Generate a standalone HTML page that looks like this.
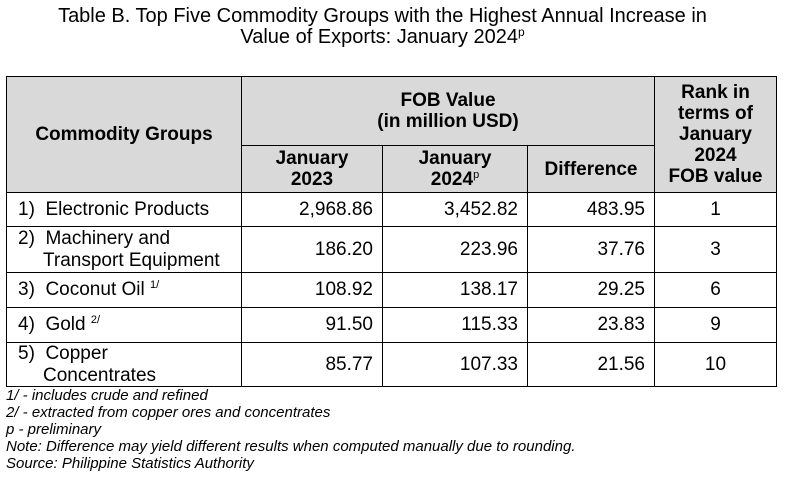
<!DOCTYPE html>
<html><head><meta charset="utf-8"><style>
body{margin:0;width:785px;height:477px;background:#fff;font-family:"Liberation Sans",Arial,sans-serif;color:#000;position:relative;overflow:hidden}
.t{position:absolute;left:-10px;width:785px;text-align:center;font-size:20px;line-height:21px}
.c{position:absolute;box-sizing:border-box;border:1px solid #000;display:flex;align-items:center;font-size:19px;line-height:22px}
.h{background:#d9d9d9;font-weight:bold;justify-content:center;text-align:center;line-height:21px}
.n{justify-content:flex-end;padding-right:9px}
.m{justify-content:center}
.l{padding-left:11px}
.l span{display:block}
.ind{padding-left:25px}
sup{font-size:11px;vertical-align:7px;line-height:0;font-weight:normal}
.f{position:absolute;left:6px;font-size:15px;font-style:italic;line-height:17px}
</style></head><body>
<div class="t" style="top:6px">Table B. Top Five Commodity Groups with the Highest Annual Increase in<br>Value of Exports: January 2024<sup style="font-size:12px">p</sup></div>

<div class="c h" style="left:6px;top:76px;width:236px;height:117px"><span>Commodity Groups</span></div>
<div class="c h" style="left:241px;top:76px;width:414px;height:70px"><span>FOB Value<br>(in million USD)</span></div>
<div class="c h" style="left:654px;top:76px;width:123px;height:117px"><span>Rank in<br>terms of<br>January<br>2024<br>FOB value</span></div>
<div class="c h" style="left:241px;top:145px;width:142px;height:48px"><span>January<br>2023</span></div>
<div class="c h" style="left:382px;top:145px;width:146px;height:48px"><span>January<br>2024<sup>p</sup></span></div>
<div class="c h" style="left:527px;top:145px;width:128px;height:48px"><span>Difference</span></div>

<div class="c l" style="left:6px;top:192px;width:236px;height:35px"><span>1)&nbsp; Electronic Products</span></div>
<div class="c n" style="left:241px;top:192px;width:142px;height:35px">2,968.86</div>
<div class="c n" style="left:382px;top:192px;width:146px;height:35px">3,452.82</div>
<div class="c n" style="left:527px;top:192px;width:128px;height:35px">483.95</div>
<div class="c m" style="left:654px;top:192px;width:123px;height:35px">1</div>

<div class="c l" style="left:6px;top:226px;width:236px;height:47px"><div><span>2)&nbsp; Machinery and</span><span class="ind">Transport Equipment</span></div></div>
<div class="c n" style="left:241px;top:226px;width:142px;height:47px">186.20</div>
<div class="c n" style="left:382px;top:226px;width:146px;height:47px">223.96</div>
<div class="c n" style="left:527px;top:226px;width:128px;height:47px">37.76</div>
<div class="c m" style="left:654px;top:226px;width:123px;height:47px">3</div>

<div class="c l" style="left:6px;top:272px;width:236px;height:36px"><span>3)&nbsp; Coconut Oil&nbsp;<sup>1/</sup></span></div>
<div class="c n" style="left:241px;top:272px;width:142px;height:36px">108.92</div>
<div class="c n" style="left:382px;top:272px;width:146px;height:36px">138.17</div>
<div class="c n" style="left:527px;top:272px;width:128px;height:36px">29.25</div>
<div class="c m" style="left:654px;top:272px;width:123px;height:36px">6</div>

<div class="c l" style="left:6px;top:307px;width:236px;height:36px"><span>4)&nbsp; Gold&nbsp;<sup>2/</sup></span></div>
<div class="c n" style="left:241px;top:307px;width:142px;height:36px">91.50</div>
<div class="c n" style="left:382px;top:307px;width:146px;height:36px">115.33</div>
<div class="c n" style="left:527px;top:307px;width:128px;height:36px">23.83</div>
<div class="c m" style="left:654px;top:307px;width:123px;height:36px">9</div>

<div class="c l" style="left:6px;top:342px;width:236px;height:45px"><div><span>5)&nbsp; Copper</span><span class="ind">Concentrates</span></div></div>
<div class="c n" style="left:241px;top:342px;width:142px;height:45px">85.77</div>
<div class="c n" style="left:382px;top:342px;width:146px;height:45px">107.33</div>
<div class="c n" style="left:527px;top:342px;width:128px;height:45px">21.56</div>
<div class="c m" style="left:654px;top:342px;width:123px;height:45px">10</div>

<div class="f" style="top:387px">1/ - includes crude and refined<br>2/ - extracted from copper ores and concentrates<br>p - preliminary<br>Note: Difference may yield different results when computed manually due to rounding.<br>Source: Philippine Statistics Authority</div>
</body></html>
